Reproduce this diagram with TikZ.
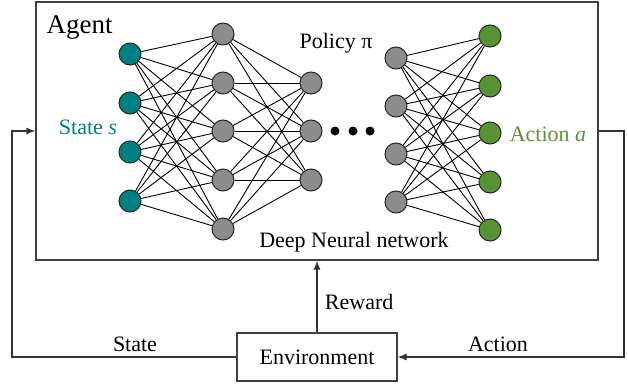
\documentclass[tikz,border=0pt]{standalone}
\usepackage{fontspec}
\setmainfont{Liberation Serif}
\usepackage{xcolor}
\usepackage{tikz}
\usetikzlibrary{arrows.meta, positioning, calc}
\definecolor{stateteal}{RGB}{0, 128, 128}
\definecolor{actgreen}{RGB}{88, 148, 52}
\definecolor{hidgray}{RGB}{140, 140, 140}
\tikzstyle{neuron} = [
    circle,
    minimum size=22pt,
    inner sep=0pt,
    draw=black!85,
    line width=1pt,
    fill=hidgray
]
\tikzstyle{frame} = [
    rectangle,
    draw=black!75,
    line width=1.2pt
]
\tikzstyle{lbl} = [
    font=\fontsize{22}{26}\selectfont,
    text=black
]
\tikzstyle{link} = [
    line width=0.9pt,
    color=black
]
\tikzstyle{arrow} = [
    line width=1.2pt,
    color=black!80,
    -{Latex[length=9pt, width=7pt]}
]

\begin{document}
\begin{tikzpicture}[x=1pt, y=-1pt]
        \useasboundingbox (0,0) rectangle (628,383);
        % Boxes
        \node[frame, minimum width=562pt, minimum height=258pt] (agent) at (317,131) {};
        \node[frame, minimum width=160pt, minimum height=48pt, lbl] (env) at (317,357) {Environment};

        % Layers
        \foreach \y [count=\i] in {54,103,152,201}
            \node[neuron, fill=stateteal] (in\i) at (130,\y) {};
        \foreach \y [count=\i] in {34,83,131,180,229}
            \node[neuron] (h\i) at (223,\y) {};
        \foreach \y [count=\i] in {83,131,180}
            \node[neuron] (m\i) at (311,\y) {};
        \foreach \y [count=\i] in {58,106,154,202}
            \node[neuron] (l\i) at (396,\y) {};
        \foreach \y [count=\i] in {36,86,133,182,230}
            \node[neuron, fill=actgreen] (out\i) at (490,\y) {};
        \foreach \x [count=\i] in {335,353,370}
            \node[circle, fill=black, minimum size=9pt, inner sep=0pt] (dot\i) at (\x,131) {};

        % Links
        \foreach \a in {1,...,4}
            \foreach \b in {1,...,5}
                \draw[link] (in\a) -- (h\b);
        \foreach \a in {1,...,5}
            \foreach \b in {1,...,3}
                \draw[link] (h\a) -- (m\b);
        \foreach \a in {1,...,4}
            \foreach \b in {1,...,5}
                \draw[link] (l\a) -- (out\b);

        % Labels
        \node[font=\fontsize{27}{31}\selectfont, anchor=base west] (agentlbl) at (43,33) {Agent};
        \node[lbl, text=stateteal] (slbl) at (88,127) {State \textit{s}};
        \node[lbl, text=actgreen] (albl) at (548,134) {Action \textit{a}};
        \node[lbl] (pilbl) at (336,43) {Policy π};
        \node[lbl] (dnn) at (354,242) {Deep Neural network};

        % Loop
        \coordinate (sl) at (12,357);
        \coordinate (ar) at (624,131);
        \draw[arrow] (env.north) -- node[lbl, right=4pt, pos=0.42] (rew) {Reward} (agent.south);
        \draw[arrow] (env.west) -- (sl) |- (agent.west);
        \draw[arrow] (agent.east) -- (ar) |- (env.east);
        \node[lbl] (stlbl) at (135,344) {State};
        \node[lbl] (aclbl) at (498,344) {Action};
    \end{tikzpicture}
\end{document}
